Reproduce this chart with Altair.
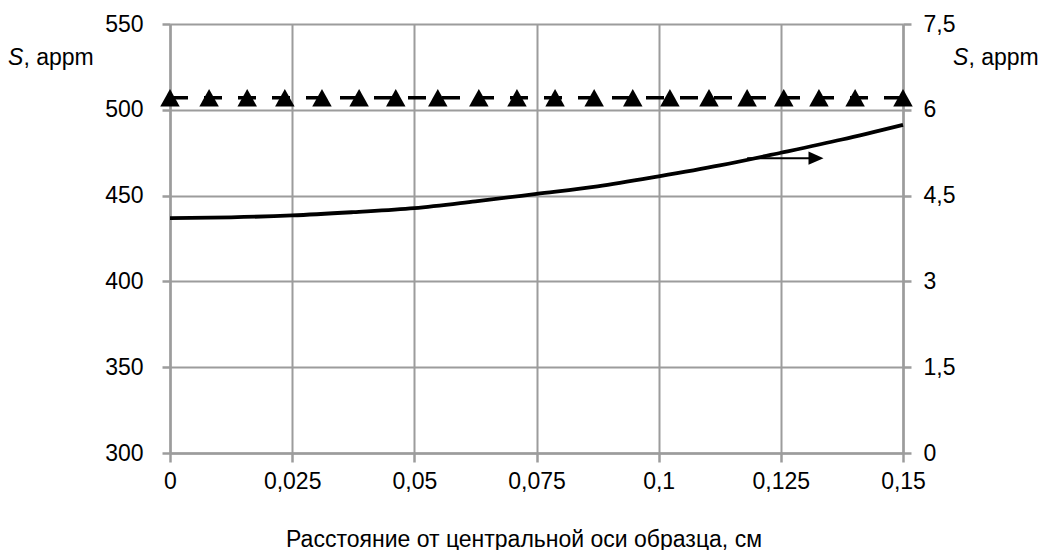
import altair as alt
import pandas as pd

FONT = "Liberation Sans"
GRID = "#9c9c9c"

x_ticks = [0, 0.025, 0.05, 0.075, 0.1, 0.125, 0.15]
left_ticks = [300, 350, 400, 450, 500, 550]
right_ticks = [0, 1.5, 3, 4.5, 6, 7.5]

# triangle series (left axis)
tri_x = [0, 0.008, 0.0158, 0.0235, 0.0311, 0.0387, 0.0462, 0.0548, 0.0632, 0.0710,
         0.0788, 0.0868, 0.0947, 0.1023, 0.1103, 0.1181, 0.1256, 0.1328, 0.1402, 0.15]
tri_s = [507, 507, 507, 507, 507, 507, 507, 507, 507, 507,
         507, 507, 507, 507, 507, 507, 507, 507, 507, 507]

# solid curve (right axis)
curve_x = [0, 0.0125, 0.025, 0.0375, 0.05, 0.0625, 0.075, 0.0875, 0.1, 0.1125, 0.125, 0.1375, 0.15]
curve_s = [4.106, 4.12, 4.153, 4.211, 4.281, 4.40, 4.529, 4.660, 4.835, 5.027, 5.249, 5.481, 5.738]

# arrow pointing to the right axis
arrow_x = [0.1181, 0.1315]
arrow_s = [5.155, 5.155]
arrow_head_x = [0.1322]
arrow_head_s = [5.155]

x_title = "Расстояние от центральной оси образца, см"
y_title_rest = ", appm"

tri_df = pd.DataFrame({"x": tri_x, "s": tri_s})
curve_df = pd.DataFrame({"x": curve_x, "s": curve_s})
arrow_df = pd.DataFrame({"x": arrow_x, "s": arrow_s})
head_df = pd.DataFrame({"x": arrow_head_x, "s": arrow_head_s})
one = pd.DataFrame({"k": [0]})

COMMA = "replace('' + datum.value, '.', ',')"

x_enc = alt.X(
    "x:Q",
    scale=alt.Scale(domain=[0, 0.15], nice=False, zero=False),
    axis=alt.Axis(
        values=x_ticks, labelExpr=COMMA,
        title=None, grid=True, tickSize=9, labelPadding=8,
        labelFlush=False, labelOverlap=False, orient="bottom",
    ),
)

yl = alt.Y(
    "s:Q",
    scale=alt.Scale(domain=[300, 550], nice=False, zero=False),
    axis=alt.Axis(values=left_ticks, title=None, grid=True, orient="left",
                  tickSize=8, labelPadding=19, labelFlush=False, labelOverlap=False),
)
yr = alt.Y(
    "s:Q",
    scale=alt.Scale(domain=[0, 7.5], nice=False, zero=False),
    axis=alt.Axis(values=right_ticks, title=None, grid=False, orient="right",
                  labelExpr=COMMA,
                  tickSize=8, labelPadding=12, labelFlush=False, labelOverlap=False),
)

tri_line = alt.Chart(tri_df).mark_line(
    color="black", strokeWidth=3.5, strokeDash=[18, 16]
).encode(x=x_enc, y=yl)
tri_pts = alt.Chart(tri_df).mark_point(
    filled=True, color="black", opacity=1, size=380,
    shape="M0,-0.9L1,0.9L-1,0.9Z",
).encode(x=x_enc, y=yl)
left = alt.layer(tri_line, tri_pts)

curve = alt.Chart(curve_df).mark_line(
    color="black", strokeWidth=3.8, interpolate="monotone"
).encode(x=x_enc, y=yr)
arrow = alt.Chart(arrow_df).mark_line(color="black", strokeWidth=2).encode(x=x_enc, y=yr)
head = alt.Chart(head_df).mark_point(
    filled=True, color="black", opacity=1, size=225,
    shape="M-1,-0.87L1,0L-1,0.87Z",
).encode(x=x_enc, y=yr)
right = alt.layer(curve, arrow, head)

def txt(text, x, y, style="normal", align="left"):
    return alt.Chart(one).mark_text(
        text=text, font=FONT, fontSize=23, fontStyle=style, color="black",
        align=align, baseline="alphabetic",
    ).encode(x=alt.value(x), y=alt.value(y))

titles = alt.layer(
    txt("S", -162, 41, style="italic"),
    txt(y_title_rest, -146.6, 41),
    txt("S", 783, 41, style="italic"),
    txt(y_title_rest, 798.4, 41),
    txt(x_title, 354, 523, align="center"),
)

chart = alt.layer(left, right, titles).resolve_scale(y="independent").properties(
    width=733, height=429,
    padding={"left": 162, "top": 16, "right": 138, "bottom": 100},
    autosize=alt.AutoSizeParams(type="none"),
).configure_view(stroke=None).configure_axis(
    labelFont=FONT, labelFontSize=23, labelColor="black",
    gridColor=GRID, gridWidth=2, gridOpacity=1,
    domainColor=GRID, domainWidth=2.5,
    tickColor=GRID, tickWidth=2.5,
)

chart.save("out.html", embed_options={"renderer": "svg", "actions": False})
